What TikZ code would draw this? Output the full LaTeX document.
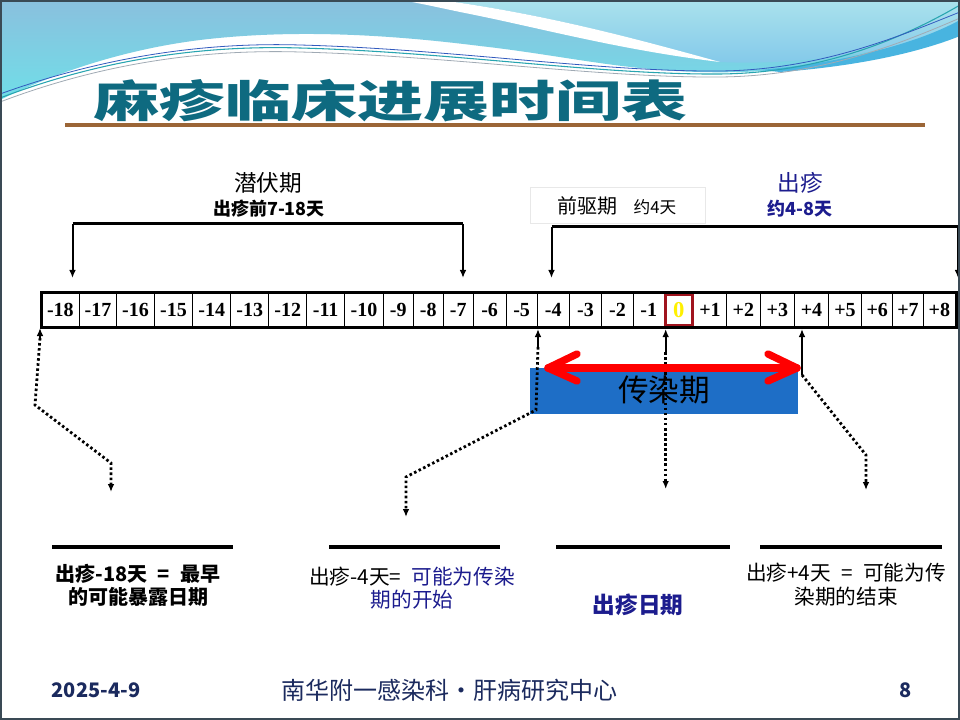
\documentclass[tikz,border=0pt]{standalone}
\usepackage{fontspec}
\setmainfont{Noto Sans CJK SC}
\newfontfamily\tnr{Liberation Serif}
\usetikzlibrary{arrows.meta}
\definecolor{navy}{HTML}{1C1C8E}
\definecolor{foot}{HTML}{1B2A5E}
\definecolor{teal}{HTML}{0E6A80}
\definecolor{brownline}{HTML}{9B6536}
\definecolor{rectblue}{HTML}{1E6EC6}
\definecolor{zerored}{HTML}{A0141E}
\definecolor{frame}{HTML}{3A4A55}
\definecolor{waveA}{RGB}{138,192,222}
\definecolor{waveB}{RGB}{112,222,232}
\definecolor{waveC}{RGB}{170,226,236}
\definecolor{waveD}{RGB}{130,200,234}
\definecolor{waveE}{RGB}{72,180,224}
\definecolor{lineT}{RGB}{40,165,176}
\definecolor{lineB}{RGB}{50,90,190}
\definecolor{lineG}{RGB}{160,170,180}
\definecolor{zeroyel}{RGB}{255,240,0}
\definecolor{boxgray}{RGB}{232,232,232}
\begin{document}
\begin{tikzpicture}[x=0.75pt,y=-0.75pt,
  cell/.style={draw, line width=0.75pt, minimum height=24.75pt, inner sep=0pt,
    font=\tnr\bfseries\fontsize{15}{15}\selectfont},
  barline/.style={line width=2.25pt},
  darr/.style={line width=1.5pt, -{Latex[length=6pt,width=5pt]}},
  dotarr/.style={line width=2.1pt, dash pattern=on 1.9pt off 1.9pt, -{Latex[length=6pt,width=5pt]}},
  lbl/.style={inner sep=0pt, align=center},
]
\useasboundingbox (0,0) rectangle (960,720);
\fill[white] (0,0) rectangle (960,720);

% ---------- decorative header waves ----------
\shade[top color=waveA, bottom color=waveB]
  (0,0) -- (960,0) -- (960,35)
  .. controls (900,55) and (800,75) .. (700,72)
  .. controls (620,70) and (560,55) .. (480,46)
  .. controls (400,36) and (300,28) .. (200,40)
  .. controls (120,50) and (50,75) .. (0,100) -- cycle;
\shade[top color=waveC, bottom color=waveD]
  (440,0) -- (960,0) -- (960,30)
  .. controls (900,50) and (800,66) .. (720,62)
  .. controls (640,40) and (550,15) .. (440,0) -- cycle;
\fill[white]
  (440,0) .. controls (550,15) and (640,40) .. (720,62)
  .. controls (620,50) and (540,28) .. (470,14)
  .. controls (440,8) and (420,3) .. (400,0) -- cycle;
\fill[waveE]
  (760,70) .. controls (850,62) and (920,42) .. (960,20) -- (960,36)
  .. controls (920,52) and (860,66) .. (780,72) -- cycle;
\draw[lineT, line width=0.8pt]
  (0,98) .. controls (100,60) and (200,45) .. (300,48)
  .. controls (450,52) and (600,75) .. (720,74)
  .. controls (820,73) and (900,40) .. (960,5);
\draw[lineB, line width=0.6pt]
  (0,94) .. controls (100,58) and (200,42) .. (300,45)
  .. controls (450,49) and (600,72) .. (720,71)
  .. controls (820,70) and (900,36) .. (960,12);
\draw[lineG, line width=0.6pt]
  (0,102) .. controls (100,64) and (200,49) .. (300,52)
  .. controls (450,56) and (600,78) .. (720,77)
  .. controls (820,76) and (900,44) .. (960,18);

% ---------- title ----------
\node[inner sep=0pt, text=teal, font=\bfseries\fontsize{33}{35}\selectfont] (title) at (390,101)
  {\scalebox{1.5}[1]{麻疹临床进展时间表}};
\coordinate (brL) at (65,125.5);
\coordinate (brR) at (925,125.5);
\draw[brownline, line width=3pt] (brL) -- (brR);

% ---------- timeline cells ----------
\foreach \l/\r/\t/\n in {
  41.5/79.3/-18/m18, 79.3/116.7/-17/m17, 116.7/154.3/-16/m16, 154.3/192.7/-15/m15,
  192.7/230.7/-14/m14, 230.7/268.7/-13/m13, 268.7/306.7/-12/m12, 306.7/344.7/-11/m11,
  344.7/383.3/-10/m10, 383.3/413.3/-9/m9, 413.3/443.3/-8/m8, 443.3/473.3/-7/m7,
  473.3/506/-6/m6, 506/537.3/-5/m5, 537.3/569.3/-4/m4, 569.3/601.7/-3/m3,
  601.7/633.3/-2/m2, 633.3/664.3/-1/m1,
  693.3/726.7/+1/p1, 726.7/760/+2/p2, 760/794.7/+3/p3, 794.7/828.3/+4/p4,
  828.3/861.7/+5/p5, 861.7/892.7/+6/p6, 892.7/923.3/+7/p7, 923.3/955.5/+8/p8}{
  \pgfmathsetmacro\w{(\r-\l)*0.75}
  \node[cell, minimum width=\w pt] (c\n) at ({(\l+\r)/2},310) {\t};
}
\node[cell, minimum width=21.75pt, text=zeroyel, font=\tnr\bfseries\fontsize{17}{17}\selectfont] (c0) at (678.8,310) {0};
\draw[zerored, line width=2pt] (665.5,294.5) rectangle (692.2,325.5);
\draw[line width=2.25pt] (cm18.north west) rectangle (cp8.south east);

% ---------- brackets ----------
\node[lbl, font=\fontsize{17}{20}\selectfont] (qf) at (268,183) {潜伏期};
\node[lbl, font=\bfseries\fontsize{13.5}{16}\selectfont] (qf2) at (269,209) {出疹前7-18天};
\coordinate (qa) at (72.5,224);
\coordinate (qb) at (463,224);
\coordinate (qat) at (72.5,278);
\coordinate (qbt) at (463,278);
\draw[barline] (qa) -- (qb);
\draw[darr] (qa) -- (qat);
\draw[darr] (qb) -- (qbt);

\node[draw=boxgray, fill=white, line width=0.5pt,
  minimum width=131pt, minimum height=27pt, inner sep=0pt] (qqbox) at (617.5,205) {};
\node[lbl] (qq) at (617,206)
  {{\fontsize{15}{18}\selectfont 前驱期}\hspace{12pt}{\fontsize{12.5}{15}\selectfont 约4天}};

\node[lbl, text=navy, font=\fontsize{17}{20}\selectfont] (cz) at (800,183) {出疹};
\node[lbl, text=navy, font=\bfseries\fontsize{13.5}{16}\selectfont] (cz2) at (800,209) {约4-8天};
\coordinate (ra) at (551.5,227);
\coordinate (rb) at (958,227);
\coordinate (rat) at (551.5,278);
\coordinate (rbt) at (958,278);
\draw[barline] (ra) -- (rb);
\draw[darr] (ra) -- (rat);
\draw[darr] (rb) -- (rbt);

% ---------- infectious period ----------
\node[fill=rectblue, minimum width=201pt, minimum height=34.5pt, inner sep=0pt] (inf) at (664,391) {};
\node[lbl, font=\fontsize{23}{26}\selectfont] (inftxt) at (664,390) {传染期};

% ---------- connectors below timeline ----------
\coordinate (a1t) at (40,328);
\coordinate (a1s) at (40,338);
\coordinate (a1b) at (35,405);
\coordinate (a1c) at (111,463);
\coordinate (a1e) at (111,492);
\draw[darr] (a1s) -- (a1t);
\draw[dotarr] (a1s) -- (a1b) -- (a1c) -- (a1e);
\coordinate (a2t) at (538,329);
\coordinate (a2s) at (538,347);
\coordinate (a2b) at (536,410);
\coordinate (a2c) at (406,477);
\coordinate (a2e) at (406,517);
\draw[darr] (a2s) -- (a2t);
\draw[dotarr] (a2s) -- (a2b) -- (a2c) -- (a2e);
\coordinate (a3t) at (665.7,329);
\coordinate (a3s) at (665.7,352);
\coordinate (a3e) at (665.7,489);
\draw[darr] (a3s) -- (a3t);
\draw[dotarr] (a3s) -- (a3e);
\coordinate (a4t) at (802,329);
\coordinate (a4s) at (802,375);
\coordinate (a4c) at (866,455);
\coordinate (a4e) at (866,490);
\draw[darr] (a4s) -- (a4t);
\draw[dotarr] (a4s) -- (a4c) -- (a4e);

% red double arrow
\coordinate (ral) at (548,368);
\coordinate (rar) at (797,368);
\draw[red, line width=5.5pt, line cap=round] (ral) -- (rar);
\draw[red, line width=5.5pt, line cap=round, line join=round] (577,354) -- (ral) -- (577,381);
\draw[red, line width=5.5pt, line cap=round, line join=round] (768,354) -- (rar) -- (768,381);

% ---------- bottom labels ----------
\coordinate (h1a) at (52,547);  \coordinate (h1b) at (233,547);
\coordinate (h2a) at (329,547); \coordinate (h2b) at (500,547);
\coordinate (h3a) at (556,547); \coordinate (h3b) at (730,547);
\coordinate (h4a) at (760,547); \coordinate (h4b) at (942,547);
\draw[line width=2.5pt] (h1a) -- (h1b);
\draw[line width=2.5pt] (h2a) -- (h2b);
\draw[line width=2.5pt] (h3a) -- (h3b);
\draw[line width=2.5pt] (h4a) -- (h4b);

\node[lbl, font=\bfseries\fontsize{15}{17.25}\selectfont] (t1) at (138,585.5)
  {出疹-18天\hspace{0.5em}=\hspace{0.5em}最早\\的可能暴露日期};
\node[lbl, font=\fontsize{15.5}{17.25}\selectfont] (t2) at (412,588.5)
  {出疹-4天=\hspace{0.5em}\textcolor{navy}{可能为传染}\\\textcolor{navy}{期的开始}};
\node[lbl, text=navy, font=\bfseries\fontsize{17}{20}\selectfont] (t3) at (638,605) {出疹日期};
\node[lbl, font=\fontsize{15.5}{18}\selectfont] (t4) at (846,585)
  {出疹+4天\hspace{0.5em}=\hspace{0.5em}可能为传\\染期的结束};

% ---------- footer ----------
\node[lbl, text=foot, font=\bfseries\fontsize{15}{18}\selectfont] (f1) at (96,690) {2025-4-9};
\node[lbl, text=foot, font=\fontsize{18}{20}\selectfont] (f2) at (449,690) {南华附一感染科・肝病研究中心};
\node[lbl, text=foot, font=\bfseries\fontsize{15}{18}\selectfont] (f3) at (906,690) {8};

% frame
\draw[frame, line width=1.5pt] (1,1) rectangle (958.5,719);
\end{tikzpicture}
\end{document}
